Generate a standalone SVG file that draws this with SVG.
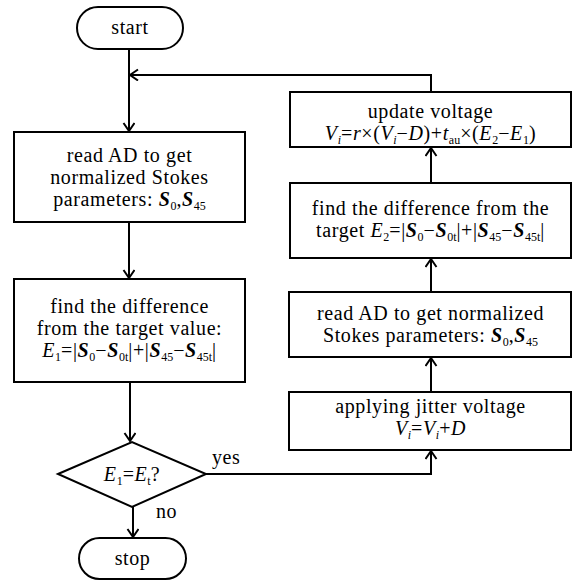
<svg xmlns="http://www.w3.org/2000/svg" width="574" height="581" viewBox="0 0 574 581">
<style>
.n{fill:#fff;stroke:#000;stroke-width:2}
.c{fill:none;stroke:#000;stroke-width:2}
text{font-family:"Liberation Serif","DejaVu Serif",serif;font-size:20px;letter-spacing:0.6px;fill:#000;text-anchor:middle}
.l{text-anchor:start}
.i{font-style:italic}
.b{font-style:italic;font-weight:bold}
.s{font-size:12px;letter-spacing:0}
</style>
<defs>
<marker id="ah" markerUnits="userSpaceOnUse" markerWidth="14" markerHeight="14" refX="9" refY="6" orient="auto">
<path d="M1,0.5 L9,6 L1,11.5" fill="none" stroke="#000" stroke-width="2"/>
</marker>
</defs>
<rect width="574" height="581" fill="#fff"/>
<g id="connectors">
<path class="c" d="M129,49 V131" marker-end="url(#ah)"/>
<path class="c" d="M431,92 V75 H130" marker-end="url(#ah)"/>
<path class="c" d="M129,222 V278" marker-end="url(#ah)"/>
<path class="c" d="M130,382 V441" marker-end="url(#ah)"/>
<path class="c" d="M133,507 V537" marker-end="url(#ah)"/>
<path class="c" d="M206,474 H431 V451" marker-end="url(#ah)"/>
<path class="c" d="M431,392 V358" marker-end="url(#ah)"/>
<path class="c" d="M431,292 V259" marker-end="url(#ah)"/>
<path class="c" d="M431,183 V148" marker-end="url(#ah)"/>
</g>
<g id="start">
<rect class="n" x="77" y="7" width="106" height="42" rx="21"/>
<text x="130" y="34">start</text>
</g>
<g id="read1">
<rect class="n" x="14" y="132" width="231" height="90"/>
<text x="129.5" y="162">read AD to get</text>
<text x="129.5" y="184">normalized Stokes</text>
<text x="129.5" y="206">parameters: <tspan class="b">S</tspan><tspan class="s" dy="4">0</tspan><tspan dy="-4">,</tspan><tspan class="b">S</tspan><tspan class="s" dy="4">45</tspan></text>
</g>
<g id="diff1">
<rect class="n" x="14" y="279" width="231" height="103"/>
<text x="129.5" y="313">find the difference</text>
<text x="129.5" y="335">from the target value:</text>
<text x="129.5" y="357"><tspan class="i">E</tspan><tspan class="s" dy="4">1</tspan><tspan dy="-4">=|</tspan><tspan class="b">S</tspan><tspan class="s" dy="4">0</tspan><tspan dy="-4">−</tspan><tspan class="b">S</tspan><tspan class="s" dy="4">0t</tspan><tspan dy="-4">|+|</tspan><tspan class="b">S</tspan><tspan class="s" dy="4">45</tspan><tspan dy="-4">−</tspan><tspan class="b">S</tspan><tspan class="s" dy="4">45t</tspan><tspan dy="-4">|</tspan></text>
</g>
<g id="decision">
<polygon class="n" points="58,474 132,442 206,474 132,507"/>
<text x="132" y="481"><tspan class="i">E</tspan><tspan class="s" dy="4">1</tspan><tspan dy="-4">=</tspan><tspan class="i">E</tspan><tspan class="s" dy="4">t</tspan><tspan dy="-4">?</tspan></text>
<text class="l" x="212" y="464">yes</text>
<text class="l" x="156" y="518">no</text>
</g>
<g id="stop">
<rect class="n" x="79" y="538" width="107" height="41" rx="20.5"/>
<text x="132.5" y="565">stop</text>
</g>
<g id="update">
<rect class="n" x="290" y="92" width="281" height="55"/>
<text x="430.5" y="118">update voltage</text>
<text x="430.5" y="140"><tspan class="i">V</tspan><tspan class="s i" dy="4">i</tspan><tspan dy="-4">=</tspan><tspan class="i">r</tspan><tspan>×(</tspan><tspan class="i">V</tspan><tspan class="s i" dy="4">i</tspan><tspan dy="-4">−</tspan><tspan class="i">D</tspan><tspan>)+</tspan><tspan class="i">t</tspan><tspan class="s" dy="4">au</tspan><tspan dy="-4">×(</tspan><tspan class="i">E</tspan><tspan class="s" dy="4">2</tspan><tspan dy="-4">−</tspan><tspan class="i">E</tspan><tspan class="s" dy="4">1</tspan><tspan dy="-4">)</tspan></text>
</g>
<g id="diff2">
<rect class="n" x="290" y="183" width="281" height="75"/>
<text x="430.5" y="215">find the difference from the</text>
<text x="430.5" y="237">target <tspan class="i">E</tspan><tspan class="s" dy="4">2</tspan><tspan dy="-4">=|</tspan><tspan class="b">S</tspan><tspan class="s" dy="4">0</tspan><tspan dy="-4">−</tspan><tspan class="b">S</tspan><tspan class="s" dy="4">0t</tspan><tspan dy="-4">|+|</tspan><tspan class="b">S</tspan><tspan class="s" dy="4">45</tspan><tspan dy="-4">−</tspan><tspan class="b">S</tspan><tspan class="s" dy="4">45t</tspan><tspan dy="-4">|</tspan></text>
</g>
<g id="read2">
<rect class="n" x="289" y="292" width="282" height="65"/>
<text x="430.5" y="320">read AD to get normalized</text>
<text x="430.5" y="342">Stokes parameters: <tspan class="b">S</tspan><tspan class="s" dy="4">0</tspan><tspan dy="-4">,</tspan><tspan class="b">S</tspan><tspan class="s" dy="4">45</tspan></text>
</g>
<g id="jitter">
<rect class="n" x="289" y="392" width="282" height="58"/>
<text x="430.5" y="413">applying jitter voltage</text>
<text x="430.5" y="435"><tspan class="i">V</tspan><tspan class="s i" dy="4">i</tspan><tspan dy="-4">=</tspan><tspan class="i">V</tspan><tspan class="s i" dy="4">i</tspan><tspan dy="-4">+</tspan><tspan class="i">D</tspan></text>
</g>
</svg>
